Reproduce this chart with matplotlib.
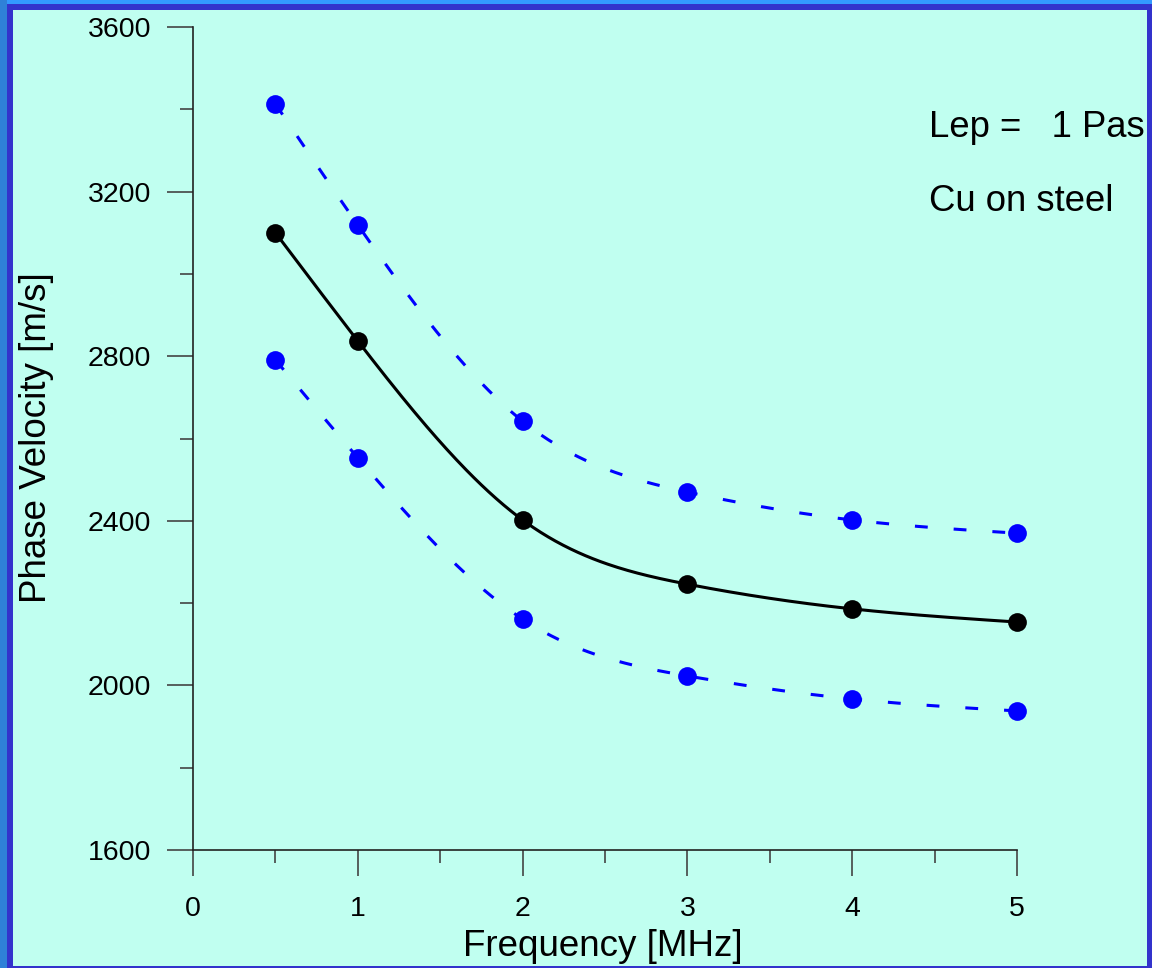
import numpy as np
import matplotlib
matplotlib.use("Agg")
import matplotlib.pyplot as plt
from matplotlib.patches import Rectangle
from matplotlib.ticker import MultipleLocator

plt.rcParams['font.family'] = ['Liberation Sans', 'DejaVu Sans']

# ---- data ----
freq = [0.5, 1, 2, 3, 4, 5]
v_mid = [3100, 2837, 2402, 2246, 2186, 2154]
v_upper = [3413, 3119, 2642, 2470, 2402, 2370]
v_lower = [2791, 2553, 2161, 2023, 1967, 1938]
x_ticks = [0, 1, 2, 3, 4, 5]
y_ticks = [1600, 2000, 2400, 2800, 3200, 3600]
x_label = "Frequency [MHz]"
y_label = "Phase Velocity [m/s]"
note1 = "Lep =   1 Pas"
note2 = "Cu on steel"


def natural_spline(x, y, xs):
    x = np.asarray(x, float)
    y = np.asarray(y, float)
    n = len(x)
    h = np.diff(x)
    A = np.zeros((n, n))
    b = np.zeros(n)
    A[0, 0] = 1
    A[-1, -1] = 1
    for i in range(1, n - 1):
        A[i, i - 1] = h[i - 1]
        A[i, i] = 2 * (h[i - 1] + h[i])
        A[i, i + 1] = h[i]
        b[i] = 6 * ((y[i + 1] - y[i]) / h[i] - (y[i] - y[i - 1]) / h[i - 1])
    M = np.linalg.solve(A, b)
    idx = np.clip(np.searchsorted(x, xs) - 1, 0, n - 2)
    x0, x1 = x[idx], x[idx + 1]
    hh = x1 - x0
    t0 = x1 - xs
    t1 = xs - x0
    return (M[idx] * t0 ** 3 / (6 * hh) + M[idx + 1] * t1 ** 3 / (6 * hh)
            + (y[idx] / hh - M[idx] * hh / 6) * t0
            + (y[idx + 1] / hh - M[idx + 1] * hh / 6) * t1)


W, H = 1152, 968
fig = plt.figure(figsize=(W / 100, H / 100), dpi=100)
panel = '#C0FFF0'
fig.patch.set_facecolor(panel)

ax = fig.add_axes([193 / W, 1 - 850 / H, (1017 - 193) / W, (850 - 27) / H])
ax.set_facecolor(panel)
ax.patch.set_alpha(0)

xs = np.linspace(freq[0], freq[-1], 300)
ax.plot(xs, natural_spline(freq, v_upper, xs), color='#0000FF', lw=2.2,
        linestyle=(0, (4.2, 8.5)), zorder=2, clip_on=False)
ax.plot(xs, natural_spline(freq, v_lower, xs), color='#0000FF', lw=2.2,
        linestyle=(0, (4.2, 8.5)), zorder=2, clip_on=False)
ax.plot(xs, natural_spline(freq, v_mid, xs), color='black', lw=2.2, zorder=2,
        clip_on=False)

ax.plot(freq, v_upper, 'o', color='#0000FF', ms=13.5, mec='none', zorder=3,
        clip_on=False)
ax.plot(freq, v_lower, 'o', color='#0000FF', ms=13.5, mec='none', zorder=3,
        clip_on=False)
ax.plot(freq, v_mid, 'o', color='black', ms=13.5, mec='none', zorder=3,
        clip_on=False)

ax.set_xlim(0, 5)
ax.set_ylim(1600, 3600)
ax.set_xticks(x_ticks)
ax.set_yticks(y_ticks)
ax.xaxis.set_minor_locator(MultipleLocator(0.5))
ax.yaxis.set_minor_locator(MultipleLocator(200))
for s in ['top', 'right']:
    ax.spines[s].set_visible(False)
for s in ['left', 'bottom']:
    ax.spines[s].set_color('#222222')
    ax.spines[s].set_linewidth(1.2)
ax.tick_params(which='major', direction='out', length=19, width=1.2,
               color='#444444', labelsize=20.5, pad=11, labelcolor='black')
ax.tick_params(axis='x', which='major', pad=14)
ax.tick_params(which='minor', direction='out', length=9.5, width=1.2,
               color='#444444')

fig.text(603 / W, 1 - 946 / H, x_label, fontsize=26.5, ha='center', va='center')
fig.text(37 / W, 1 - 438 / H, y_label, fontsize=26.5, ha='center', va='center',
         rotation=90)
fig.text(929 / W, 1 - 137 / H, note1, fontsize=26.3, ha='left', va='baseline',
         zorder=5)
fig.text(929 / W, 1 - 211 / H, note2, fontsize=26.3, ha='left', va='baseline',
         zorder=5)

# frame
def px_rect(x0, y0, x1, y1, color, z):
    fig.add_artist(Rectangle((x0 / W, 1 - y1 / H), (x1 - x0) / W, (y1 - y0) / H,
                             transform=fig.transFigure, facecolor=color,
                             edgecolor='none', zorder=z))

px_rect(0, 0, W, 4, '#3399FF', 10)
px_rect(0, 0, 7, H, '#2F80D8', 10)
px_rect(7, 4, W, 10, '#3333CC', 11)
px_rect(7, 4, 13, H, '#3333CC', 11)
px_rect(1147, 4, W, H, '#3333CC', 11)
px_rect(7, 966, W, H, '#3333CC', 11)

fig.savefig('out.png', dpi=100, facecolor=fig.get_facecolor())
